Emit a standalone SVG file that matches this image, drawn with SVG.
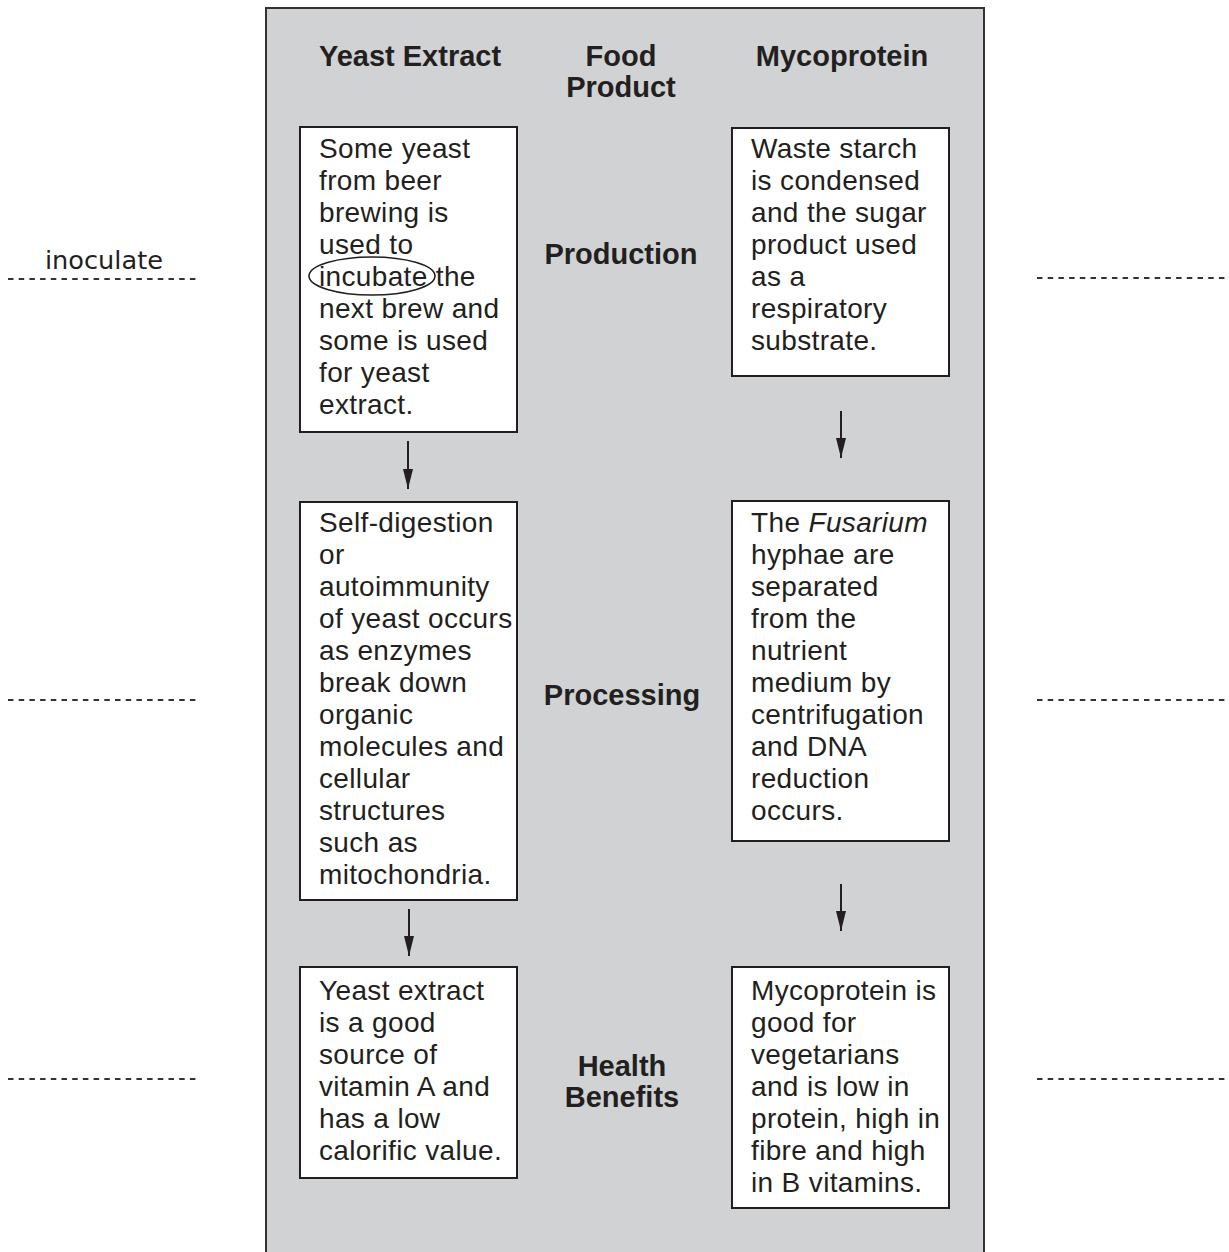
<svg xmlns="http://www.w3.org/2000/svg" width="1229" height="1252" viewBox="0 0 1229 1252">
<defs>
<style>
.body{font-family:"Liberation Sans",Arial,sans-serif;font-size:28px;letter-spacing:0.35px;fill:#231f20}
.hd{font-family:"Liberation Sans",Arial,sans-serif;font-size:29px;font-weight:bold;fill:#231f20;text-anchor:middle}
.box{fill:#ffffff;stroke:#231f20;stroke-width:2}
.conn{stroke:#231f20;stroke-width:2;fill:none}
.dash{stroke:#333;stroke-width:1.8;stroke-dasharray:5.5 5.2;fill:none}
.hand{font-family:"Comic Sans MS","DejaVu Sans",sans-serif;font-size:24px;fill:#231f20}
</style>
<marker id="ah" viewBox="0 0 20 12" refX="20" refY="6" markerWidth="20" markerHeight="12" markerUnits="userSpaceOnUse" orient="auto">
<path d="M0,1 L20,6 L0,11 Z" fill="#231f20"/>
</marker>
</defs>
<rect x="0" y="0" width="1229" height="1252" fill="#ffffff"/>
<g id="panel">
<rect x="266" y="8" width="718" height="1260" fill="#d1d2d4" stroke="#333" stroke-width="2"/>
</g>
<g id="headers">
<text class="hd" x="410" y="66">Yeast Extract</text>
<text class="hd" x="621" y="66">Food</text>
<text class="hd" x="621" y="97">Product</text>
<text class="hd" x="842" y="66">Mycoprotein</text>
<text class="hd" x="621" y="264">Production</text>
<text class="hd" x="622" y="705">Processing</text>
<text class="hd" x="622" y="1076">Health</text>
<text class="hd" x="622" y="1107">Benefits</text>
</g>
<g id="ye-production">
<rect class="box" x="300" y="127" width="217" height="305"/>
<text class="body">
<tspan x="319" y="158">Some yeast</tspan>
<tspan x="319" y="190">from beer</tspan>
<tspan x="319" y="222">brewing is</tspan>
<tspan x="319" y="254">used to</tspan>
<tspan x="319" y="286">incubate the</tspan>
<tspan x="319" y="318">next brew and</tspan>
<tspan x="319" y="350">some is used</tspan>
<tspan x="319" y="382">for yeast</tspan>
<tspan x="319" y="414">extract.</tspan>
</text>
<ellipse cx="372" cy="276" rx="63" ry="19" fill="none" stroke="#231f20" stroke-width="1.6"/>
</g>
<g id="ye-processing">
<rect class="box" x="300" y="502" width="217" height="398"/>
<text class="body">
<tspan x="319" y="532">Self-digestion</tspan>
<tspan x="319" y="564">or</tspan>
<tspan x="319" y="596">autoimmunity</tspan>
<tspan x="319" y="628">of yeast occurs</tspan>
<tspan x="319" y="660">as enzymes</tspan>
<tspan x="319" y="692">break down</tspan>
<tspan x="319" y="724">organic</tspan>
<tspan x="319" y="756">molecules and</tspan>
<tspan x="319" y="788">cellular</tspan>
<tspan x="319" y="820">structures</tspan>
<tspan x="319" y="852">such as</tspan>
<tspan x="319" y="884">mitochondria.</tspan>
</text>
</g>
<g id="ye-health">
<rect class="box" x="300" y="967" width="217" height="211"/>
<text class="body">
<tspan x="319" y="1000">Yeast extract</tspan>
<tspan x="319" y="1032">is a good</tspan>
<tspan x="319" y="1064">source of</tspan>
<tspan x="319" y="1096">vitamin A and</tspan>
<tspan x="319" y="1128">has a low</tspan>
<tspan x="319" y="1160">calorific value.</tspan>
</text>
</g>
<g id="my-production">
<rect class="box" x="732" y="128" width="217" height="248"/>
<text class="body">
<tspan x="751" y="158">Waste starch</tspan>
<tspan x="751" y="190">is condensed</tspan>
<tspan x="751" y="222">and the sugar</tspan>
<tspan x="751" y="254">product used</tspan>
<tspan x="751" y="286">as a</tspan>
<tspan x="751" y="318">respiratory</tspan>
<tspan x="751" y="350">substrate.</tspan>
</text>
</g>
<g id="my-processing">
<rect class="box" x="732" y="501" width="217" height="340"/>
<text class="body">
<tspan x="751" y="532">The <tspan font-style="italic">Fusarium</tspan></tspan>
<tspan x="751" y="564">hyphae are</tspan>
<tspan x="751" y="596">separated</tspan>
<tspan x="751" y="628">from the</tspan>
<tspan x="751" y="660">nutrient</tspan>
<tspan x="751" y="692">medium by</tspan>
<tspan x="751" y="724">centrifugation</tspan>
<tspan x="751" y="756">and DNA</tspan>
<tspan x="751" y="788">reduction</tspan>
<tspan x="751" y="820">occurs.</tspan>
</text>
</g>
<g id="my-health">
<rect class="box" x="732" y="967" width="217" height="241"/>
<text class="body">
<tspan x="751" y="1000">Mycoprotein is</tspan>
<tspan x="751" y="1032">good for</tspan>
<tspan x="751" y="1064">vegetarians</tspan>
<tspan x="751" y="1096">and is low in</tspan>
<tspan x="751" y="1128">protein, high in</tspan>
<tspan x="751" y="1160">fibre and high</tspan>
<tspan x="751" y="1192">in B vitamins.</tspan>
</text>
</g>
<g id="connectors">
<line class="conn" x1="408" y1="441" x2="408" y2="489" marker-end="url(#ah)"/>
<line class="conn" x1="409" y1="909" x2="409" y2="956" marker-end="url(#ah)"/>
<line class="conn" x1="841" y1="411" x2="841" y2="458" marker-end="url(#ah)"/>
<line class="conn" x1="841" y1="884" x2="841" y2="931" marker-end="url(#ah)"/>
</g>
<g id="answer-lines">
<line class="dash" x1="8" y1="279" x2="196" y2="279"/>
<line class="dash" x1="8" y1="700" x2="196" y2="700"/>
<line class="dash" x1="8" y1="1079" x2="196" y2="1079"/>
<line class="dash" x1="1037" y1="278" x2="1229" y2="278"/>
<line class="dash" x1="1037" y1="700" x2="1229" y2="700"/>
<line class="dash" x1="1037" y1="1079" x2="1229" y2="1079"/>
<text class="hand" x="45" y="269" textLength="118" lengthAdjust="spacingAndGlyphs">inoculate</text>
</g>
</svg>
